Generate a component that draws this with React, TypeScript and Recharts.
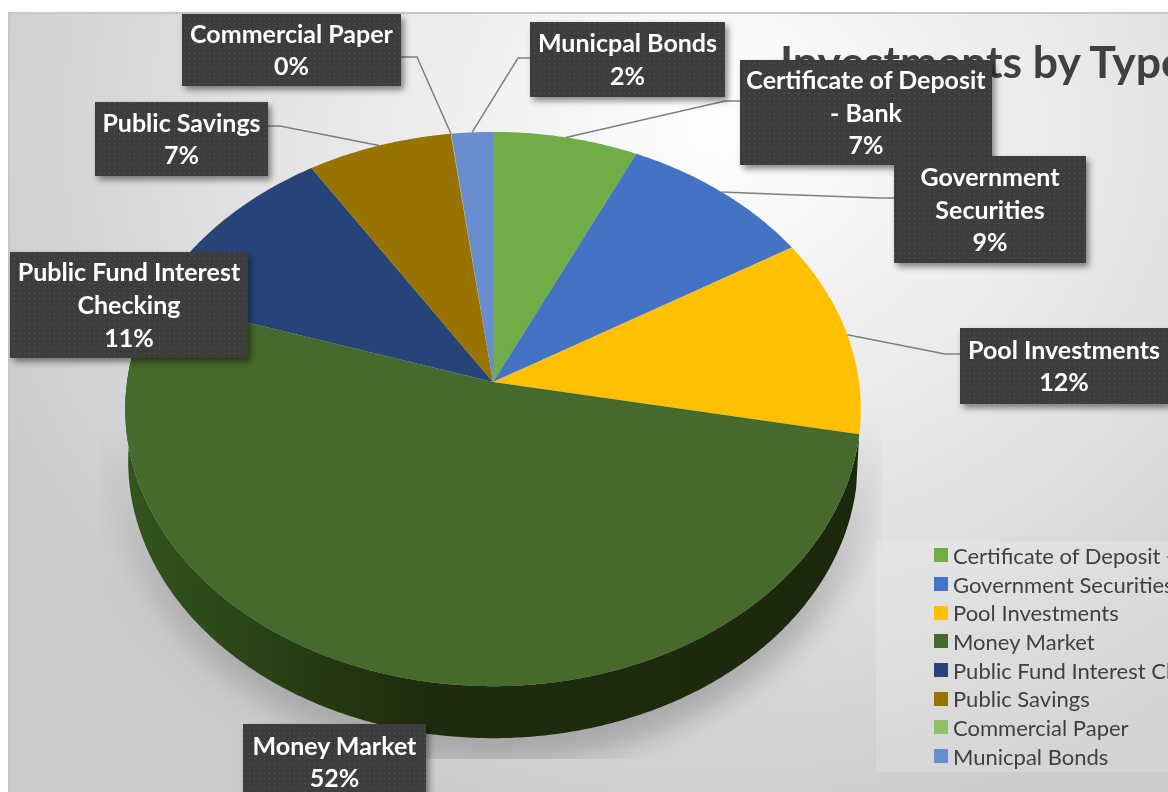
import { PieChart, Pie, Legend } from "recharts";

const categories = [
  "Certificate of Deposit - Bank",
  "Government Securities",
  "Pool Investments",
  "Money Market",
  "Public Fund Interest Checking",
  "Public Savings",
  "Commercial Paper",
  "Municpal Bonds",
];
const values = [7, 9.4, 11.6, 52, 11, 7, 0.02, 2];
const colors = ["#70ad47", "#4472c4", "#ffc000", "#466a2b", "#264478", "#997300", "#8fc066", "#698ed0"];
const labelLines = [
  ["Certificate of Deposit", "- Bank"],
  ["Government", "Securities"],
  ["Pool Investments"],
  ["Money Market"],
  ["Public Fund Interest", "Checking"],
  ["Public Savings"],
  ["Commercial Paper"],
  ["Municpal Bonds"],
];

// label boxes in chart coordinates: x, y, w, h, and the leader's elbow (if any)
const boxes = [
  { x: 732, y: 48, w: 252, h: 105, from: [732, 89], elbow: [717, 89] },
  { x: 886, y: 144, w: 192, h: 107, from: [886, 186], elbow: [872, 186] },
  { x: 952, y: 316, w: 208, h: 76, from: [952, 342], elbow: [937, 342] },
  { x: 235, y: 712, w: 183, h: 76 },
  { x: 2, y: 240, w: 238, h: 106 },
  { x: 87, y: 90, w: 173, h: 74, from: [260, 114], elbow: [272, 114] },
  { x: 174, y: 2, w: 219, h: 72, from: [393, 45], elbow: [409, 45] },
  { x: 522, y: 10, w: 195, h: 75, from: [522, 46], elbow: [510, 46] },
];

const chartData = categories.map((name, i) => ({ name, value: values[i], fill: colors[i] }));

const TILT = 0.75;
const PERSPECTIVE = 0.0976;
const RAD = Math.PI / 180;

function project(cx: number, cy: number, r: number, deg: number) {
  const th = (90 - deg) * RAD;
  const d = 1 + PERSPECTIVE * Math.cos(th);
  return [cx + (r * Math.sin(th)) / d, cy - (r * TILT * Math.cos(th)) / d];
}

function arcPoints(cx: number, cy: number, r: number, start: number, end: number) {
  const n = Math.max(1, Math.ceil(Math.abs(end - start) / 0.5));
  const pts = [];
  for (let i = 0; i <= n; i++) pts.push(project(cx, cy, r, start + ((end - start) * i) / n));
  return pts;
}

function toPath(pts: number[][]) {
  return pts.map((p, i) => `${i ? "L" : "M"}${p[0].toFixed(1)},${p[1].toFixed(1)}`).join(" ");
}

function PieSlice(props: any) {
  const { cx, cy, outerRadius, startAngle, endAngle, fill, name } = props;
  const rim = arcPoints(cx, cy, outerRadius, startAngle, endAngle);
  const top = `${toPath([[cx, cy], ...rim])} Z`;
  if (name !== "Money Market") return <path d={top} fill={fill} />;
  // only the front slice shows its side wall
  const lower = rim.map((p) => [cx + (p[0] - cx) * 0.992, p[1] + 52]).reverse();
  return (
    <g>
      <path d={`${toPath([...rim, ...lower])} Z`} fill="url(#wallFill)" />
      <path d={top} fill={fill} />
    </g>
  );
}

function SliceLabel(props: any) {
  const { cx, cy, outerRadius, midAngle, percent, index } = props;
  const box = boxes[index];
  const lines = [...labelLines[index], `${Math.round(percent * 100)}%`];
  const end = project(cx, cy, outerRadius, midAngle);
  const first = box.y + box.h / 2 - ((lines.length - 1) * 32.6) / 2 + 9;
  return (
    <g>
      {box.from && (
        <polyline
          points={`${box.from.join(",")} ${box.elbow.join(",")} ${end.join(",")}`}
          fill="none"
          stroke="#7f7f7f"
          strokeWidth={1.5}
        />
      )}
      <rect x={box.x} y={box.y} width={box.w} height={box.h} fill="url(#dotFill)" filter="url(#boxShadow)" />
      {lines.map((line, i) => (
        <text
          key={i}
          x={box.x + box.w / 2}
          y={first + i * 32.6}
          textAnchor="middle"
          fill="#ffffff"
          fontFamily="Lato"
          fontWeight={700}
          fontSize={25}
        >
          {line}
        </text>
      ))}
    </g>
  );
}

function LegendList({ payload }: any) {
  // keep the series order, not the legend's alphabetical one
  const items = [...(payload || [])].sort((a: any, b: any) => categories.indexOf(a.value) - categories.indexOf(b.value));
  return (
    <div>
      {items.map((entry: any) => (
        <div
          key={entry.value}
          style={{ display: "flex", alignItems: "center", height: 28.7, whiteSpace: "nowrap", paddingLeft: 58 }}
        >
          <span style={{ width: 14, height: 14, background: entry.color, marginRight: 5, flex: "none" }} />
          <span style={{ color: "#404040", fontFamily: "Lato", fontSize: 22 }}>{entry.value}</span>
        </div>
      ))}
    </div>
  );
}

export default function App() {
  return (
    <div
      style={{
        position: "fixed",
        left: 8,
        top: 12,
        width: 1160,
        height: 780,
        overflow: "hidden",
        boxShadow: "inset 2px 2px 0 #c8c8c8",
        background: "radial-gradient(ellipse 800px 720px at 712px 115px, #ffffff 0%, #e4e4e4 55%, #cbcbcb 100%)",
      }}
    >
      <PieChart width={1160} height={780} margin={{ top: 0, right: 0, bottom: 0, left: 0 }}>
        <defs>
          <linearGradient id="wallFill" x1="0" y1="0" x2="1" y2="0">
            <stop offset="0" stopColor="#33551d" />
            <stop offset="0.4" stopColor="#1e2d0e" />
            <stop offset="1" stopColor="#1c280d" />
          </linearGradient>
          <linearGradient id="shadowFill" x1="0" y1="0" x2="0" y2="1">
            <stop offset="0.48" stopColor="#a6a6a6" stopOpacity="0" />
            <stop offset="0.8" stopColor="#a6a6a6" stopOpacity="0.85" />
            <stop offset="1" stopColor="#a6a6a6" stopOpacity="1" />
          </linearGradient>
          <pattern id="dotFill" width="5" height="5" patternUnits="userSpaceOnUse">
            <rect width="5" height="5" fill="#3d3d3d" />
            <rect x="1" y="1" width="1" height="1" fill="#575757" />
          </pattern>
          <filter id="boxShadow" x="-10%" y="-10%" width="125%" height="130%">
            <feDropShadow dx="3" dy="4" stdDeviation="3" floodColor="#000000" floodOpacity="0.45" />
          </filter>
          <filter id="softEdge" x="-10%" y="-10%" width="120%" height="120%">
            <feGaussianBlur stdDeviation="14" />
          </filter>
          <clipPath id="shadowClip">
            <rect x={92} y={300} width={782} height={447} />
          </clipPath>
        </defs>
        <g clipPath="url(#shadowClip)">
          <ellipse cx={485} cy={425} rx={392} ry={326} fill="url(#shadowFill)" filter="url(#softEdge)" />
        </g>
        <text x={772} y={66} fill="#404040" fontFamily="Lato" fontWeight={700} fontSize={44.5}>
          Investments by Type
        </text>
        <Pie
          data={chartData}
          dataKey="value"
          nameKey="name"
          cx={485}
          cy={370}
          outerRadius={366}
          startAngle={90}
          endAngle={-270}
          stroke="none"
          shape={PieSlice}
          label={SliceLabel}
          labelLine={false}
          isAnimationActive={false}
        />
        <Legend
          content={LegendList}
          wrapperStyle={{
            position: "absolute",
            left: 868,
            top: 529,
            width: 320,
            height: 231,
            background: "rgba(255,255,255,0.17)",
          }}
        />
      </PieChart>
    </div>
  );
}
